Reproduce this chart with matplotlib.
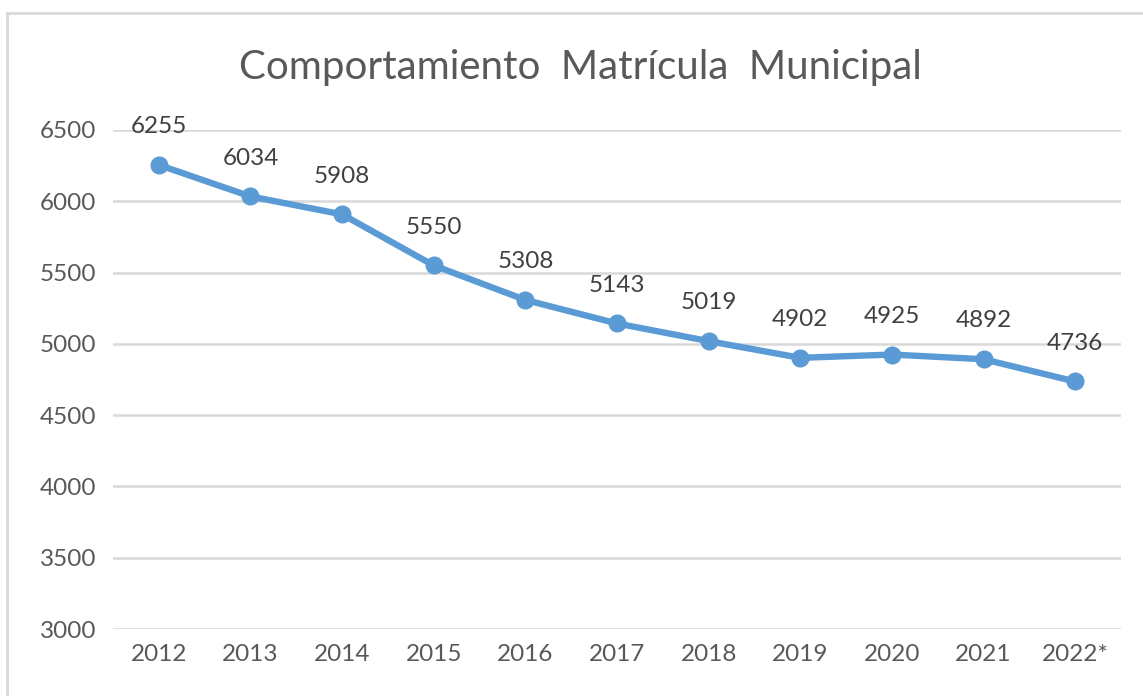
import matplotlib
matplotlib.use("Agg")
import matplotlib.pyplot as plt
from matplotlib.patches import Rectangle

years = ["2012", "2013", "2014", "2015", "2016", "2017", "2018", "2019", "2020", "2021", "2022*"]
matricula = [6255, 6034, 5908, 5550, 5308, 5143, 5019, 4902, 4925, 4892, 4736]
yticks = [3000, 3500, 4000, 4500, 5000, 5500, 6000, 6500]

W, H = 1143, 696
plt.rcParams["font.family"] = ["Lato", "DejaVu Sans"]

fig = plt.figure(figsize=(W / 100, H / 100), dpi=100)
ax = fig.add_axes([113 / W, 1 - 629 / H, (1121 - 113) / W, (629 - 130) / H])

# chart border (only top/left visible in the crop)
fig.patches.append(Rectangle((7 / W, -0.1), 1.2, 1 - 13 / H + 0.1, transform=fig.transFigure,
                             fill=False, edgecolor="#d9d9d9", linewidth=2))

x = list(range(len(years)))
ax.plot(x, matricula, color="#5b9bd5", linewidth=4.6, marker="o", markersize=12,
        solid_capstyle="round", zorder=3)

for xi, v in zip(x, matricula):
    ax.annotate(str(v), (xi, v), xytext=(0, 20), textcoords="offset points",
                ha="center", va="bottom", fontsize=17.5, color="#404040")

ax.set_xlim(-0.5, len(years) - 0.5)
ax.set_ylim(3000, 6500)
ax.set_yticks(yticks)
ax.set_xticks(x)
ax.set_xticklabels(years)
ax.grid(axis="y", color="#d9d9d9", linewidth=1.8)
ax.set_axisbelow(True)
for s in ax.spines.values():
    s.set_visible(False)
ax.tick_params(length=0, labelsize=17.5, labelcolor="#595959")
ax.tick_params(axis="y", pad=12)
ax.tick_params(axis="x", pad=11)

fig.text(580 / W, 1 - 68 / H, "Comportamiento  Matrícula  Municipal", ha="center", va="center",
         fontsize=29, color="#595959")

fig.savefig("out.png", dpi=100)
